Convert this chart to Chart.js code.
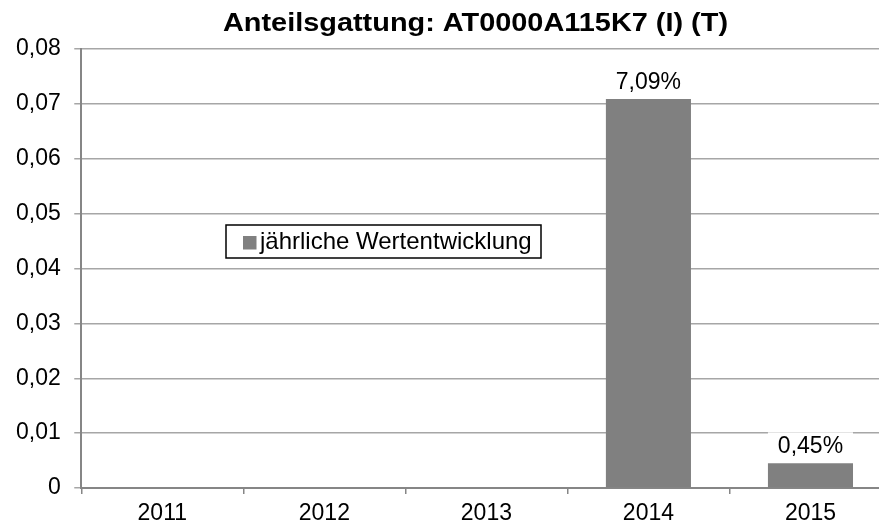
<!DOCTYPE html>
<html>
<head>
<meta charset="utf-8">
<script src="https://cdn.jsdelivr.net/npm/chart.js@4.4.0/dist/chart.umd.min.js"></script>
<style>
html,body{margin:0;padding:0;overflow:hidden;background:#fff;}
canvas{display:block;}
</style>
</head>
<body>
<canvas id="grafica" width="893" height="534"></canvas>
<script>
var titulo = "Anteilsgattung: AT0000A115K7 (I) (T)";
var jahre = ["2011", "2012", "2013", "2014", "2015"];
var werte = [null, null, null, 0.0709, 0.0045];
var serie = "jährliche Wertentwicklung";
var yTicks = ["0", "0,01", "0,02", "0,03", "0,04", "0,05", "0,06", "0,07", "0,08"];

var fuente = "'Liberation Sans', Arial, Helvetica, sans-serif";
var grau = "#808080";

function prozent(v){
    return (v * 100).toFixed(2).replace(".", ",") + "%";
}

// title, legend box and the value labels are drawn by hand
var extras = {
    id: "extras",
    afterDatasetsDraw: function(chart){
        var ctx = chart.ctx;
        var meta = chart.getDatasetMeta(0);
        ctx.save();

        ctx.font = "23px " + fuente;
        ctx.textAlign = "center";
        ctx.textBaseline = "alphabetic";
        meta.data.forEach(function(bar, i){
            var v = werte[i];
            if (v === null) return;
            var base = bar.y - 10;
            ctx.fillStyle = "#fff";
            ctx.fillRect(bar.x - bar.width / 2, base - 21, bar.width, 25);
            ctx.fillStyle = "#000";
            ctx.fillText(prozent(v), bar.x, base);
        });

        // legend
        ctx.fillStyle = "#fff";
        ctx.fillRect(226, 225, 315, 33);
        ctx.strokeStyle = "#000";
        ctx.lineWidth = 1.5;
        ctx.strokeRect(226, 225, 315, 33);
        ctx.fillStyle = grau;
        ctx.fillRect(243, 236, 13.5, 13.5);
        ctx.fillStyle = "#000";
        ctx.font = "24px " + fuente;
        ctx.textAlign = "left";
        ctx.textBaseline = "middle";
        ctx.fillText(serie, 260, 242);

        // title, widened to the width it has in the original
        ctx.font = "bold 26px " + fuente;
        ctx.textAlign = "center";
        ctx.textBaseline = "alphabetic";
        var w = ctx.measureText(titulo).width;
        ctx.translate(475.5, 31);
        ctx.scale(505 / w, 1);
        ctx.fillText(titulo, 0, 0);
        ctx.restore();
    }
};

var chart = new Chart(document.getElementById("grafica").getContext("2d"), {
    type: "bar",
    data: {
        labels: jahre,
        datasets: [{
            label: serie,
            data: werte,
            backgroundColor: grau,
            categoryPercentage: 1,
            barPercentage: 0.525
        }]
    },
    options: {
        responsive: false,
        animation: false,
        layout: {padding: {left: 2.5, right: 1.5, top: 49, bottom: 0}},
        plugins: {
            legend: {display: false},
            title: {display: false},
            tooltip: {enabled: false}
        },
        scales: {
            x: {
                grid: {offset: true, drawOnChartArea: false, tickLength: 6, color: "#868686", lineWidth: 1.5},
                border: {color: "#868686", width: 2},
                ticks: {color: "#000", font: {family: fuente, size: 23}, padding: 6.2}
            },
            y: {
                min: 0,
                max: 0.08,
                grid: {color: "#a6a6a6", lineWidth: 1.5, tickLength: 7},
                border: {color: "#868686", width: 2},
                ticks: {
                    stepSize: 0.01,
                    color: "#000",
                    padding: 13.5,
                    font: {family: fuente, size: 23},
                    callback: function(val, i){ return yTicks[i]; }
                }
            }
        }
    },
    plugins: [extras]
});
</script>
</body>
</html>
